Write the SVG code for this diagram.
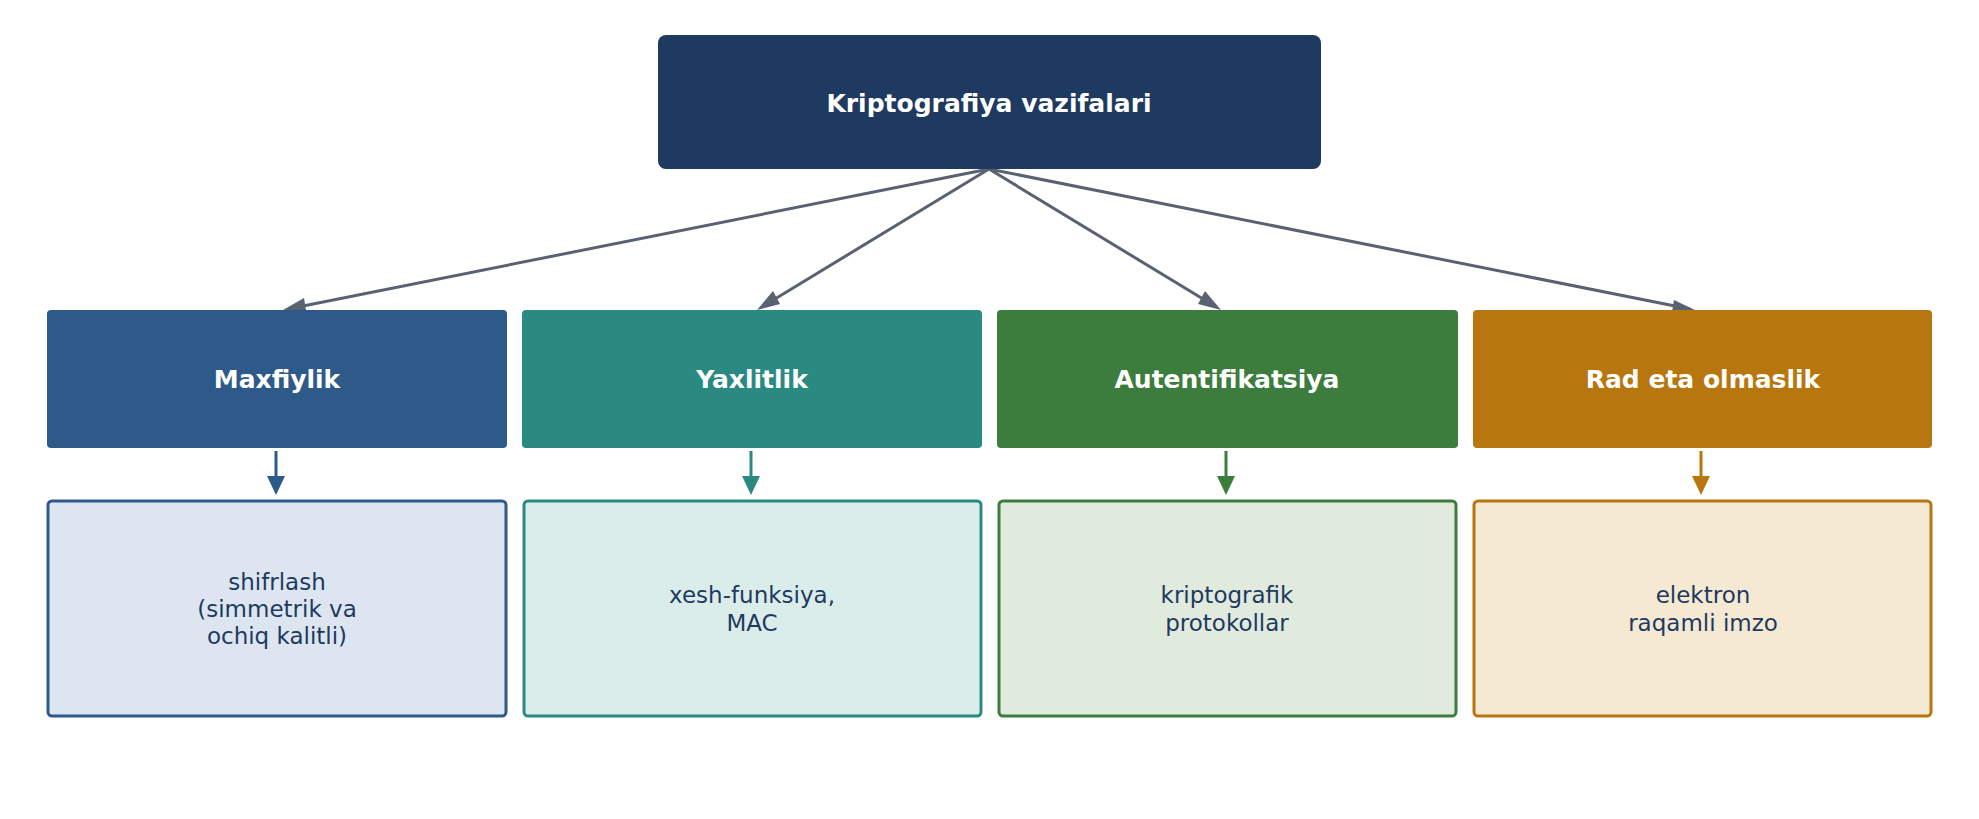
<svg xmlns="http://www.w3.org/2000/svg" width="1979" height="819" viewBox="0 0 1979 819">
<style>
text{font-family:"DejaVu Sans",sans-serif;text-anchor:middle}
.h{fill:#fff;font-weight:bold;font-size:25px}
.b{fill:#1f3a60;font-size:23px}
.g{stroke:#5a6270;stroke-width:3;fill:none}
</style>
<defs>
<marker id="ag" viewBox="0 0 10 10" refX="9" refY="5" markerWidth="7" markerHeight="7" orient="auto" markerUnits="userSpaceOnUse" style="overflow:visible"><path d="M0,-7 L18,5 L0,17 z" transform="scale(1)" fill="#5a6270"/></marker>
</defs>
<rect width="1979" height="819" fill="#fff"/>
<g id="connectors">
<path class="g" d="M989,169 L288,309"/><path d="M283,310 l21,-12 l2,12z" fill="#5a6270"/>
<path class="g" d="M989,169 L770,302"/><path d="M757,310 l16,-19 l7,13z" fill="#5a6270"/>
<path class="g" d="M989,169 L1208,302"/><path d="M1221,310 l-23,-6 l7,-13z" fill="#5a6270"/>
<path class="g" d="M989,169 L1690,309"/><path d="M1695,310 l-23,2 l2,-12z" fill="#5a6270"/>
<g stroke-width="3">
<path d="M276,451 V478" stroke="#2e5a8a"/><path d="M267,476 h18 l-9,19z" fill="#2e5a8a"/>
<path d="M751,451 V478" stroke="#2a8a82"/><path d="M742,476 h18 l-9,19z" fill="#2a8a82"/>
<path d="M1226,451 V478" stroke="#3c7d3e"/><path d="M1217,476 h18 l-9,19z" fill="#3c7d3e"/>
<path d="M1701,451 V478" stroke="#b8760f"/><path d="M1692,476 h18 l-9,19z" fill="#b8760f"/>
</g>
</g>
<g id="root"><rect x="658" y="35" width="663" height="134" rx="8" fill="#1f3a60"/><text class="h" x="989" y="112" font-size="29">Kriptografiya vazifalari</text></g>
<g id="n1"><rect x="47" y="310" width="460" height="138" rx="4" fill="#2e5a8a"/><text class="h" x="277" y="388">Maxfiylik</text></g>
<g id="n2"><rect x="522" y="310" width="460" height="138" rx="4" fill="#2a8a82"/><text class="h" x="752" y="388">Yaxlitlik</text></g>
<g id="n3"><rect x="997" y="310" width="461" height="138" rx="4" fill="#3c7d3e"/><text class="h" x="1227" y="388">Autentifikatsiya</text></g>
<g id="n4"><rect x="1473" y="310" width="459" height="138" rx="4" fill="#b8760f"/><text class="h" x="1703" y="388">Rad eta olmaslik</text></g>
<g id="d1"><rect x="48" y="501" width="458" height="215" rx="4" fill="#dde6f0" stroke="#2e5a8a" stroke-width="3"/><text class="b" x="277" y="590">shifrlash</text><text class="b" x="277" y="617">(simmetrik va</text><text class="b" x="277" y="644">ochiq kalitli)</text></g>
<g id="d2"><rect x="524" y="501" width="457" height="215" rx="4" fill="#dbedea" stroke="#2a8a82" stroke-width="3"/><text class="b" x="752" y="603">xesh-funksiya,</text><text class="b" x="752" y="631">MAC</text></g>
<g id="d3"><rect x="999" y="501" width="457" height="215" rx="4" fill="#e0eadd" stroke="#3c7d3e" stroke-width="3"/><text class="b" x="1227" y="603">kriptografik</text><text class="b" x="1227" y="631">protokollar</text></g>
<g id="d4"><rect x="1474" y="501" width="457" height="215" rx="4" fill="#f5e9d3" stroke="#b8760f" stroke-width="3"/><text class="b" x="1703" y="603">elektron</text><text class="b" x="1703" y="631">raqamli imzo</text></g>
</svg>
